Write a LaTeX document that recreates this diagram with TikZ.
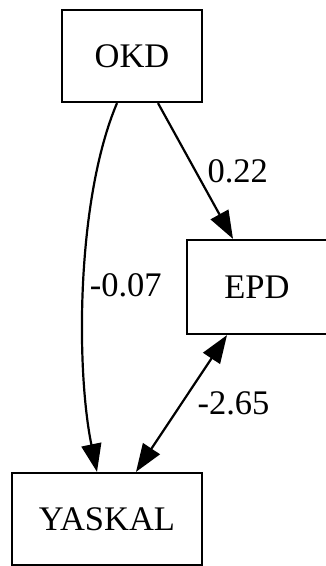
\documentclass[tikz,border=0pt]{standalone}
\usepackage{fontspec}
\setmainfont{Liberation Serif}
\usetikzlibrary{arrows.meta,positioning}

\begin{document}
\begin{tikzpicture}[x=1pt,y=-1pt]
    \tikzset{varbox/.style={draw,line width=2.2pt,minimum width=140pt,minimum height=92pt,
      inner sep=0pt,font=\fontsize{34.5}{41}\selectfont},
      pathline/.style={line width=2.2pt,-{Triangle[length=28pt,width=20pt]}},
      coeflabel/.style={anchor=west,inner sep=0pt,font=\fontsize{34.5}{41}\selectfont}}
    \useasboundingbox (0,0) rectangle (325,566);
    \node[varbox] (okd) at (132,56) {OKD};
    \node[varbox,minimum height=94pt] (epd) at (257,287) {EPD};
    \node[varbox,minimum width=190pt] (yaskal) at (107,519) {YASKAL};
    % paths
    \draw[pathline] ([xshift=26pt]okd.south) -- ([xshift=-24pt]epd.north)
      node[coeflabel,pos=0.5,xshift=11pt] {0.22};
    \draw[pathline] ([xshift=-15pt]okd.south) .. controls (76,200) and (76,370) .. ([xshift=-10pt]yaskal.north)
      node[coeflabel,pos=0.5,xshift=5pt] {-0.07};
    \draw[pathline,{Triangle[length=28pt,width=20pt]}-{Triangle[length=28pt,width=20pt]}]
      ([xshift=-30pt]epd.south) -- ([xshift=29pt]yaskal.north)
      node[coeflabel,pos=0.5,xshift=15pt] {-2.65};
\end{tikzpicture}
\end{document}
